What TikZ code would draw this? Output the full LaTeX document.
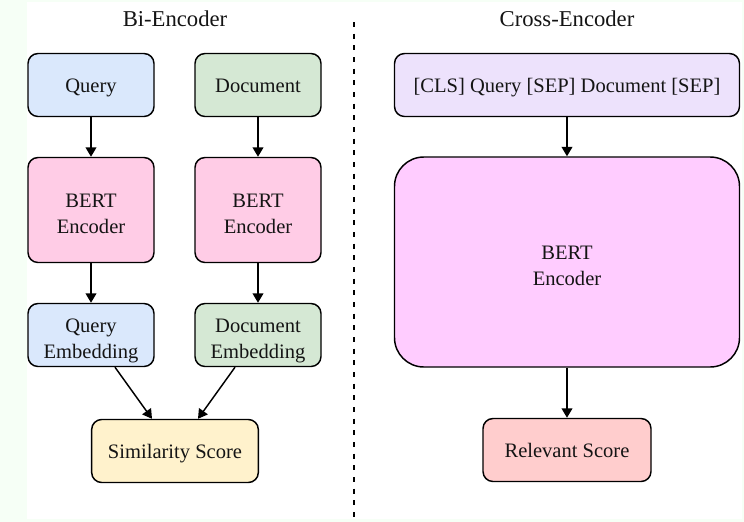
\documentclass[tikz,border=0pt]{standalone}
\usepackage{fontspec}
\setmainfont{Liberation Serif}
\usetikzlibrary{arrows.meta,calc}
\definecolor{bgstrip}{HTML}{F6FFF6}
\definecolor{qblue}{HTML}{DAE8FC}
\definecolor{dgreen}{HTML}{D5E8D4}
\definecolor{bpink}{HTML}{FFCCE6}
\definecolor{syellow}{HTML}{FFF2CC}
\definecolor{clsviolet}{HTML}{EDE2FC}
\definecolor{bigpink}{HTML}{FFCCFF}
\definecolor{relred}{HTML}{FFCDCD}
\definecolor{txt}{HTML}{141414}
\newcommand{\twoline}[2]{\vtop{\baselineskip=19.3pt\halign{\hfil##\hfil\cr#1\cr#2\cr}}}
\begin{document}
\begin{tikzpicture}[x=0.75pt,y=-0.75pt,
  box/.style={draw=black, line width=1.1pt, rounded corners=7.5pt,
    minimum width=94.5pt, minimum height=47.25pt,
    inner sep=0pt, text=txt, text height=13.1pt, text depth=1.6pt,
    font=\fontsize{15.4}{19.3}\selectfont},
  tall/.style={minimum height=78.75pt},
  two/.style={text height=10.13pt, text depth=14.1pt},
  title/.style={text=txt, font=\fontsize{17}{20}\selectfont, inner sep=0pt},
  arr/.style={line width=1.1pt, -{Triangle[length=7pt,width=8pt]}},
  sep/.style={line width=1.1pt, dash pattern=on 3.75pt off 5pt}]
\fill[bgstrip] (0,0) rectangle (744,522);
\fill[white] (27,2) rectangle (742,519);
\useasboundingbox (0,0) rectangle (744,522);

\node[title] (t1) at (175,19) {Bi-Encoder};
\node[title] (t2) at (567,19) {Cross-Encoder};

\coordinate (dtop) at (354,22);
\coordinate (dbot) at (354,522);
\draw[sep] (dtop) -- (dbot);

\node[box, fill=qblue] (q) at (91,85) {Query};
\node[box, fill=dgreen] (d) at (258,85) {Document};
\node[box, tall, two, fill=bpink] (b1) at (91,210) {\twoline{BERT}{Encoder}};
\node[box, tall, two, fill=bpink] (b2) at (258,210) {\twoline{BERT}{Encoder}};
\node[box, two, fill=qblue] (qe) at (91,335) {\twoline{Query}{Embedding}};
\node[box, two, fill=dgreen] (de) at (258,335) {\twoline{Document}{Embedding}};
\node[box, fill=syellow, minimum width=125pt] (sim) at (175,451) {Similarity Score};

\node[box, fill=clsviolet, minimum width=258.75pt] (cls) at (567,85) {[CLS] Query [SEP] Document [SEP]};
\node[box, two, fill=bigpink, minimum width=258.75pt, minimum height=157.5pt, rounded corners=22pt] (big) at (567,262) {\twoline{BERT}{Encoder}};
\node[box, fill=relred, minimum width=126pt] (rel) at (567,450) {Relevant Score};

\draw[arr] (q) -- (b1);
\draw[arr] (d) -- (b2);
\draw[arr] (b1) -- (qe);
\draw[arr] (b2) -- (de);
\draw[arr] ($(qe.south)+(24,0)$) -- ($(sim.north)+(-23,0)$);
\draw[arr] ($(de.south)+(-23,0)$) -- ($(sim.north)+(23,0)$);
\draw[arr] (cls) -- (big);
\draw[arr] (big) -- (rel);
\end{tikzpicture}
\end{document}
